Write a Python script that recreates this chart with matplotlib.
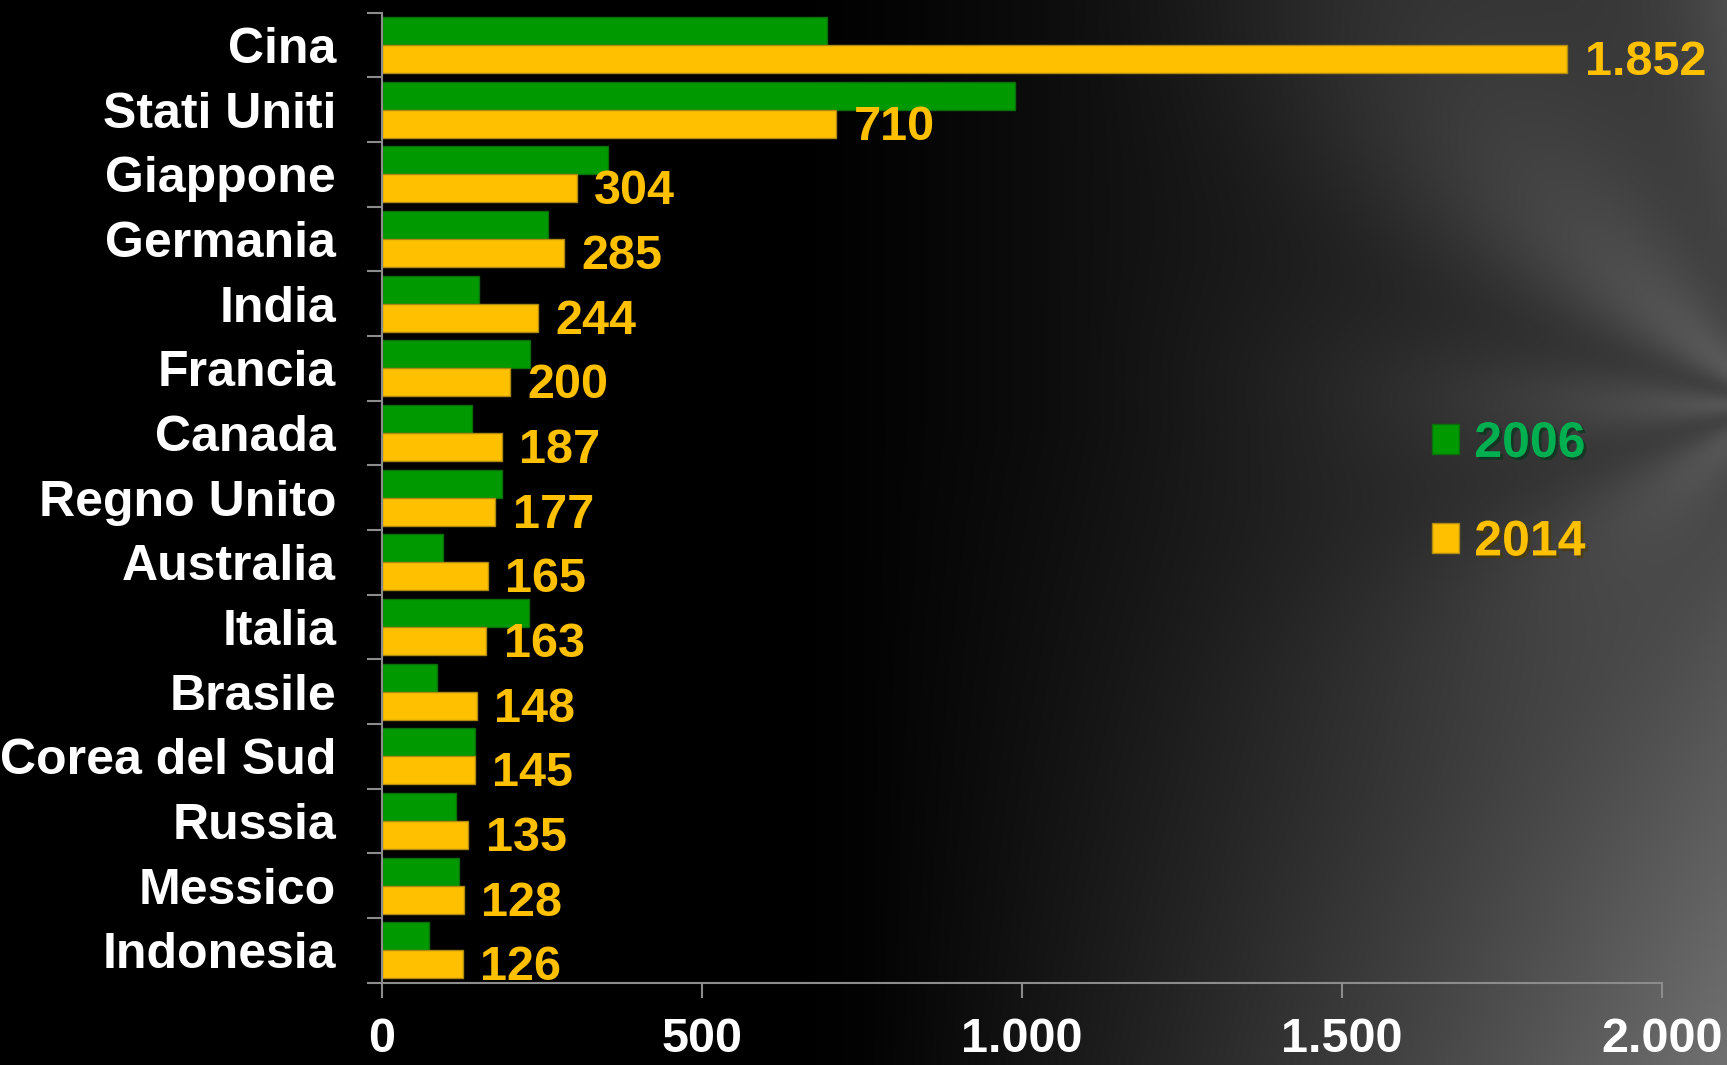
import numpy as np
import matplotlib.pyplot as plt
import matplotlib.patheffects as pe

# --------------------------- Données
paesi = ["Cina", "Stati Uniti", "Giappone", "Germania", "India", "Francia", "Canada",
         "Regno Unito", "Australia", "Italia", "Brasile", "Corea del Sud", "Russia",
         "Messico", "Indonesia"]
valori_2006 = [695, 989, 353, 260, 151, 231, 141, 188, 96, 229, 86, 145, 116, 121, 73]
valori_2014 = [1852, 710, 304, 285, 244, 200, 187, 177, 165, 163, 148, 145, 135, 128, 126]
etichette_2014 = ["1.852", "710", "304", "285", "244", "200", "187", "177", "165",
                  "163", "148", "145", "135", "128", "126"]
tick_x = [0, 500, 1000, 1500, 2000]
tick_x_labels = ["0", "500", "1.000", "1.500", "2.000"]

VERDE = "#009A00"
GIALLO = "#FFC000"
VERDE_TESTO = "#00B050"
FONT = "Liberation Sans"

fig = plt.figure(figsize=(17.27, 10.65), dpi=100)
fig.patch.set_facecolor("black")

# --------------------------- Sfondo : nero a sinistra, grigio sfumato a destra
bg = fig.add_axes([0, 0, 1, 1], zorder=-10)
h, w = 270, 440
yy, xx = np.mgrid[0:1:h * 1j, 0:1:w * 1j]   # yy = 0 in alto
base = np.clip((xx - 0.45) / 0.55, 0, 1) ** 1.3 * 0.26
base += np.clip((xx - 0.5) / 0.5, 0, 1) * np.clip((yy - 0.4) / 0.6, 0, 1) * 0.18
# striature morbide che convergono verso il bordo destro
ang = np.arctan2(yy - 0.38, 1.03 - xx)
strie = 0.5 + 0.5 * np.cos(ang * 7.0)
base += strie * np.clip((xx - 0.6) / 0.4, 0, 1) ** 1.5 * np.clip((0.75 - yy) / 0.75, 0, 1) * 0.16
base = np.clip(base, 0, 1)
bg.imshow(np.dstack([base, base, base]), extent=[0, 1, 0, 1], aspect="auto",
          interpolation="bicubic")
bg.set_axis_off()

# --------------------------- Grafico
ax = fig.add_axes([0.2212, 0.0773, 0.7412, 0.9108])
ax.set_facecolor("none")

y = np.arange(len(paesi))
altezza = 0.433
b1 = ax.barh(y - 0.217, valori_2006, height=altezza, color=VERDE,
             edgecolor="#0B6E0B", linewidth=1, label="2006")
b2 = ax.barh(y + 0.217, valori_2014, height=altezza, color=GIALLO,
             edgecolor="#B08A10", linewidth=1, label="2014")

for yi, v, lab in zip(y, valori_2014, etichette_2014):
    ax.text(v + 27, yi + 0.27, lab, color=GIALLO, fontsize=35, fontweight="bold",
            family=FONT, va="center", ha="left")

ax.set_xlim(0, 2000)
ax.set_ylim(len(paesi) - 0.5, -0.5)

ax.set_yticks(y)
ax.set_yticklabels(paesi, color="white", fontsize=36, fontweight="bold", family=FONT)
ax.set_yticks(np.arange(len(paesi) + 1) - 0.5, minor=True)
ax.tick_params(axis="y", which="major", length=0, pad=33)
ax.tick_params(axis="y", which="minor", length=11, width=1.5, color="#8C8C8C")

ax.set_xticks(tick_x)
ax.set_xticklabels(tick_x_labels, color="white", fontsize=35, fontweight="bold", family=FONT)
ax.tick_params(axis="x", length=11, width=1.5, color="#8C8C8C", pad=14)

for lato in ["top", "right"]:
    ax.spines[lato].set_visible(False)
for lato in ["left", "bottom"]:
    ax.spines[lato].set_color("#8C8C8C")
    ax.spines[lato].set_linewidth(1.5)

# --------------------------- Legenda
leg = ax.legend(handles=[b1, b2], loc="upper left", bbox_to_anchor=(0.803, 0.647),
                bbox_transform=fig.transFigure, frameon=False,
                prop={"family": FONT, "weight": "bold", "size": 36},
                labelcolor=[VERDE_TESTO, GIALLO], handlelength=0.55, handleheight=0.55,
                handletextpad=0.3, labelspacing=1.05)
for t in leg.get_texts():
    t.set_path_effects([pe.withSimplePatchShadow(offset=(2, -2), alpha=0.6)])

fig.savefig("out.png", dpi=100, facecolor=fig.get_facecolor())
